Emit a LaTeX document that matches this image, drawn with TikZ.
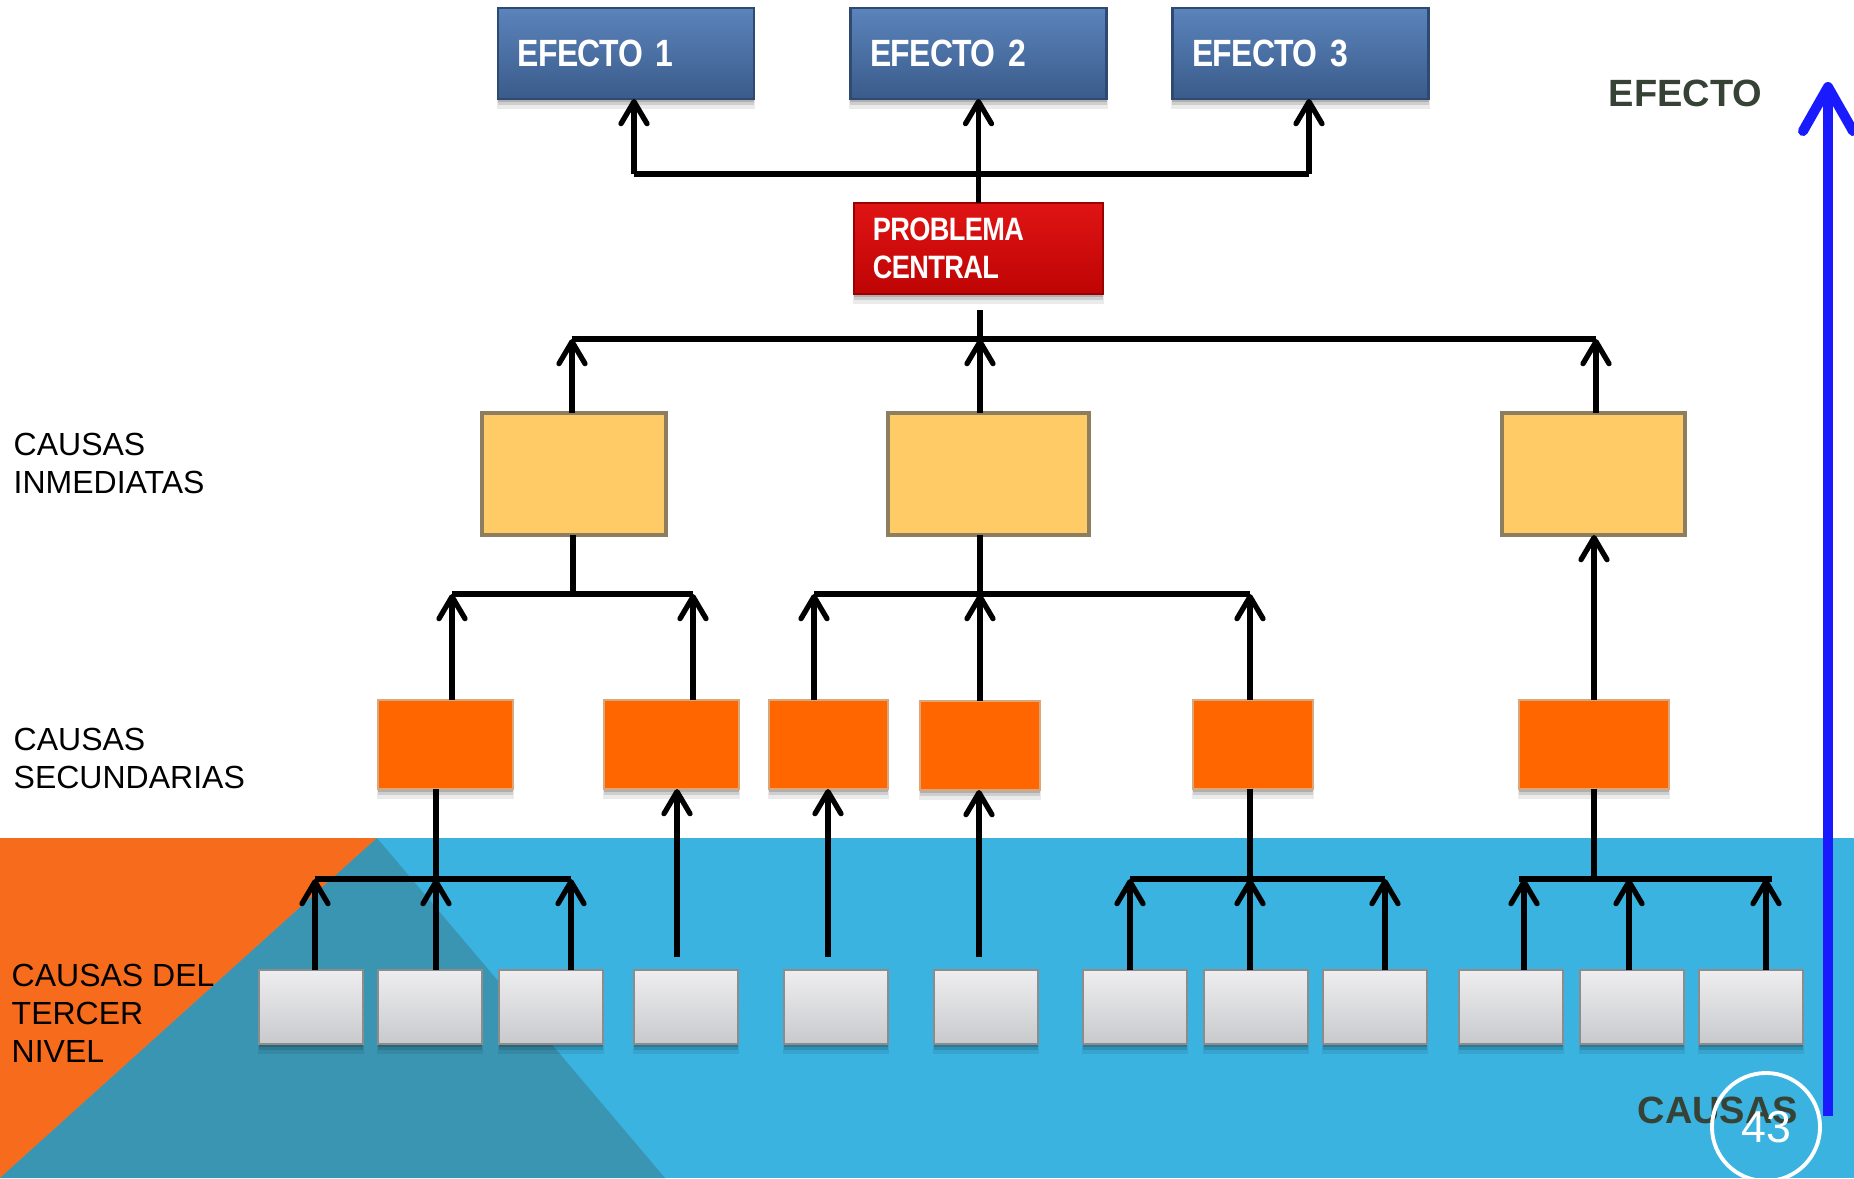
\documentclass[tikz,border=0pt]{standalone}
\usepackage{fontspec}
\setmainfont{Liberation Sans}
\newfontfamily\condbold[FakeStretch=0.84,LetterSpace=-2]{Liberation Sans}
\usetikzlibrary{arrows.meta,shadows}

\definecolor{effTop}{HTML}{5B84BC}
\definecolor{effBot}{HTML}{3A5B8A}
\definecolor{effEdge}{HTML}{2E4A72}
\definecolor{probTop}{HTML}{E01414}
\definecolor{probBot}{HTML}{BE0404}
\definecolor{probEdge}{HTML}{9A0000}
\definecolor{immFill}{HTML}{FECB66}
\definecolor{immEdge}{HTML}{8E7E60}
\definecolor{secFill}{HTML}{FF6600}
\definecolor{secEdge}{HTML}{D9A77A}
\definecolor{terTop}{HTML}{EEEEF0}
\definecolor{terBot}{HTML}{C8C9CC}
\definecolor{terEdge}{HTML}{8C8C8C}
\definecolor{bandBlue}{HTML}{3BB3E0}
\definecolor{tealDark}{HTML}{3A95B3}
\definecolor{cornerOrange}{HTML}{F76B1C}
\definecolor{axisBlue}{HTML}{1A1AFF}
\definecolor{axisText}{HTML}{354235}

\begin{document}
\begin{tikzpicture}[x=0.01cm,y=-0.01cm,
  box/.style={rectangle, inner sep=0pt, outer sep=0pt},
  softshadow/.style={
    drop shadow={shadow xshift=0pt, shadow yshift=-0.09cm, shadow scale=1.01, opacity=0.08, fill=black},
    drop shadow={shadow xshift=0pt, shadow yshift=-0.06cm, opacity=0.12, fill=black},
    drop shadow={shadow xshift=0pt, shadow yshift=-0.03cm, opacity=0.15, fill=black}},
  effbox/.style={box, softshadow, top color=effTop, bottom color=effBot, draw=effEdge, line width=0.8pt,
    minimum width=2.56cm, minimum height=0.91cm, text width=2.16cm, inner xsep=0.2cm, align=left,
    text=white, font=\condbold\bfseries\fontsize{10.8}{12}\selectfont},
  probbox/.style={box, softshadow, top color=probTop, bottom color=probBot, draw=probEdge, line width=0.8pt,
    minimum width=2.49cm, minimum height=0.91cm, text width=2.11cm, inner xsep=0.19cm, align=left,
    text=white, font=\condbold\bfseries\fontsize{9.2}{10.8}\selectfont},
  immbox/.style={box, fill=immFill, draw=immEdge, line width=1.2pt, minimum height=1.22cm},
  secbox/.style={box, softshadow, fill=secFill, draw=secEdge, line width=0.4pt, minimum height=0.89cm},
  terbox/.style={box, softshadow, top color=terTop, bottom color=terBot, draw=terEdge, line width=0.7pt,
    minimum width=1.04cm, minimum height=0.74cm},
  lbl/.style={anchor=north west, inner sep=0pt, align=left, font=\fontsize{9.1}{10.8}\selectfont},
  axislbl/.style={anchor=west, inner sep=0pt, text=axisText, font=\bfseries\fontsize{10.8}{12}\selectfont},
  conn/.style={line width=1.5pt, black},
  arr/.style={conn, -{Straight Barb[length=2.2mm, width=2.6mm, round]}},
  bigarr/.style={line width=2.85pt, axisBlue, -{Straight Barb[length=4.4mm, width=5mm, round]}}
]
\useasboundingbox (0,0) rectangle (1854,1178);
\fill[white] (0,0) rectangle (1854,1178);

% background band and corner triangles
\fill[bandBlue] (0,838) rectangle (1854,1178);
\fill[cornerOrange] (0,838) -- (377,838) -- (0,1178) -- cycle;
\fill[tealDark] (377,838) -- (665,1178) -- (0,1178) -- cycle;

% effects
\node[effbox] (E1) at (626,53.5) {EFECTO 1};
\node[effbox] (E2) at (978.5,53.5) {EFECTO 2};
\node[effbox] (E3) at (1300.5,53.5) {EFECTO 3};

% central problem
\node[probbox] (P) at (978.5,248.5) {PROBLEMA\\CENTRAL};

% immediate causes
\node[immbox, minimum width=1.84cm] (Y1) at (574,474) {};
\node[immbox, minimum width=2.01cm] (Y2) at (988.5,474) {};
\node[immbox, minimum width=1.83cm] (Y3) at (1593.5,474) {};

% secondary causes
\node[secbox, minimum width=1.35cm] (O1) at (445.5,744.5) {};
\node[secbox, minimum width=1.35cm] (O2) at (671.5,744.5) {};
\node[secbox, minimum width=1.19cm] (O3) at (828.5,744.5) {};
\node[secbox, minimum width=1.20cm] (O4) at (980,745.5) {};
\node[secbox, minimum width=1.20cm] (O5) at (1253,744.5) {};
\node[secbox, minimum width=1.50cm] (O6) at (1594,744.5) {};

% third-level causes
\foreach \i/\cx in {1/311,2/430,3/551,4/686,5/836,6/986,7/1135,8/1256,9/1375,10/1511,11/1632,12/1751}
  \node[terbox] (G\i) at (\cx,1007) {};

% row labels
\node[lbl] (L1) at (13,432) {CAUSAS\\INMEDIATAS};
\node[lbl] (L2) at (13,727) {CAUSAS\\SECUNDARIAS};
\node[lbl] (L3) at (11,963) {CAUSAS DEL\\TERCER\\NIVEL};

% problem -> effects
\coordinate (t1) at (634,174);
\coordinate (t3) at (1309,174);
\draw[conn] (t1) -- (t3);
\draw[arr] (t1) -- (t1 |- E1.south);
\draw[arr] (t3) -- (t3 |- E3.south);
\draw[arr] (P.north) -- (P.north |- E2.south);

% immediate causes -> problem
\coordinate (h2a) at (572,339);
\coordinate (h2b) at (980,339);
\coordinate (h2c) at (1596,339);
\coordinate (pstub) at (980,310);
\draw[conn] (h2a) -- (h2c);
\draw[conn] (h2b) -- (pstub);
\draw[arr] (Y1.north -| h2a) -- (h2a);
\draw[arr] (Y2.north -| h2b) -- (h2b);
\draw[arr] (Y3.north -| h2c) -- (h2c);

% secondary causes -> immediate causes
\coordinate (h3a) at (452,594);
\coordinate (h3b) at (693,594);
\coordinate (h3c) at (814,594);
\coordinate (h3d) at (980,594);
\coordinate (h3e) at (1250,594);
\coordinate (h3m) at (573,594);
\draw[conn] (h3a) -- (h3b);
\draw[conn] (Y1.south -| h3m) -- (h3m);
\draw[arr] (O1.north -| h3a) -- (h3a);
\draw[arr] (O2.north -| h3b) -- (h3b);
\draw[conn] (h3c) -- (h3e);
\draw[conn] (Y2.south -| h3d) -- (h3d);
\draw[arr] (O3.north -| h3c) -- (h3c);
\draw[arr] (O4.north -| h3d) -- (h3d);
\draw[arr] (O5.north -| h3e) -- (h3e);
\draw[arr] (O6.north) -- (O6.north |- Y3.south);

% third-level causes -> secondary causes
\coordinate (a1) at (315,879);
\coordinate (a2) at (436,879);
\coordinate (a3) at (571,879);
\draw[conn] (a1) -- (a3);
\draw[conn] (O1.south -| a2) -- (a2);
\draw[arr] (G1.north -| a1) -- (a1);
\draw[arr] (G2.north -| a2) -- (a2);
\draw[arr] (G3.north -| a3) -- (a3);

\coordinate (s4) at (677,957);
\coordinate (s5) at (828,957);
\coordinate (s6) at (979,957);
\draw[arr] (s4) -- (s4 |- O2.south);
\draw[arr] (s5) -- (s5 |- O3.south);
\draw[arr] (s6) -- (s6 |- O4.south);

\coordinate (b1) at (1130,879);
\coordinate (b2) at (1250,879);
\coordinate (b3) at (1385,879);
\draw[conn] (b1) -- (b3);
\draw[conn] (O5.south -| b2) -- (b2);
\draw[arr] (G7.north -| b1) -- (b1);
\draw[arr] (G8.north -| b2) -- (b2);
\draw[arr] (G9.north -| b3) -- (b3);

\coordinate (c0) at (1519,879);
\coordinate (c1) at (1524,879);
\coordinate (c2) at (1594,879);
\coordinate (c3) at (1629,879);
\coordinate (c4) at (1766,879);
\coordinate (c5) at (1772,879);
\draw[conn] (c0) -- (c5);
\draw[conn] (O6.south) -- (c2);
\draw[arr] (G10.north -| c1) -- (c1);
\draw[arr] (G11.north -| c3) -- (c3);
\draw[arr] (G12.north -| c4) -- (c4);

% cause-to-effect axis
\coordinate (axbot) at (1828,1116);
\coordinate (axtop) at (1828,82);
\draw[bigarr] (axbot) -- (axtop);
\node[axislbl] (efl) at (1608,93.5) {EFECTO};
\node[axislbl] (cal) at (1637,1110) {CAUSAS};

% page number
\node[circle, draw=white, line width=1.1pt, minimum size=1.08cm, inner sep=0pt, text=white,
  font=\fontsize{12.7}{14}\selectfont] (pg) at (1766,1127) {43};
\end{tikzpicture}
\end{document}
